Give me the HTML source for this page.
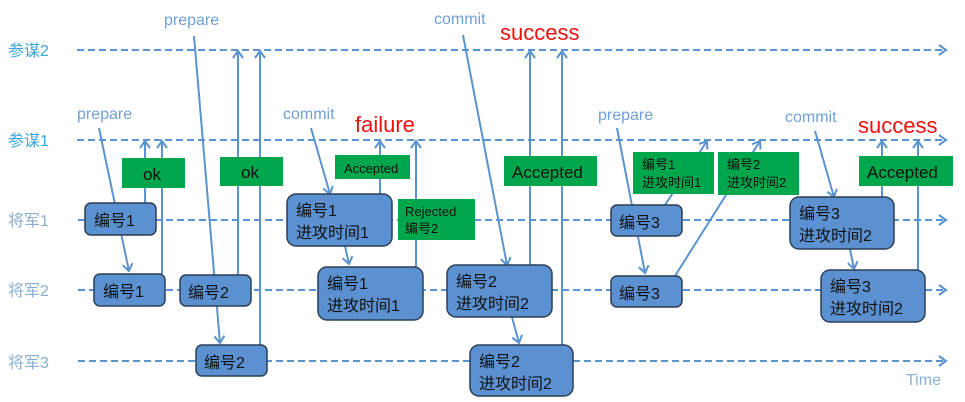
<!DOCTYPE html>
<html><head><meta charset="utf-8"><style>
html,body{margin:0;padding:0;background:#fff;}
svg{display:block;}
text{font-family:"Liberation Sans","Noto Sans CJK SC",sans-serif;}
</style></head><body>
<svg width="965" height="402" viewBox="0 0 965 402" xmlns="http://www.w3.org/2000/svg">
<defs>
<marker id="a" markerWidth="12" markerHeight="12" refX="9" refY="6" orient="auto" markerUnits="userSpaceOnUse">
<path d="M2,1 L9,6 L2,11" fill="none" stroke="#5b93d0" stroke-width="2"/>
</marker>
</defs>
<g stroke="#5b93d0" stroke-width="2" stroke-dasharray="7,4" fill="none" marker-end="url(#a)">
<line x1="77" y1="50" x2="946" y2="50"/>
<line x1="77" y1="140" x2="946" y2="140"/>
<line x1="78" y1="220" x2="946" y2="220"/>
<line x1="78" y1="290" x2="946" y2="290"/>
<line x1="78" y1="361" x2="946" y2="361"/>
</g>
<g font-size="16">
<text x="8" y="56" fill="#3aa6dc">参谋2</text>
<text x="8" y="146" fill="#3aa6dc">参谋1</text>
<text x="8" y="226" fill="#8aaed0">将军1</text>
<text x="8" y="296" fill="#8aaed0">将军2</text>
<text x="8" y="368" fill="#8aaed0">将军3</text>
</g>
<g font-size="16" fill="#6fa0d6">
<text x="77" y="119">prepare</text>
<text x="164" y="25">prepare</text>
<text x="283" y="119">commit</text>
<text x="434" y="24">commit</text>
<text x="598" y="120">prepare</text>
<text x="785" y="122">commit</text>
<text x="906" y="385" fill="#8aaed0">Time</text>
</g>
<g font-size="22" fill="#ee1111">
<text x="355" y="132">failure</text>
<text x="500" y="40">success</text>
<text x="858" y="133">success</text>
</g>
<g stroke="#5b93d0" stroke-width="2" fill="none" marker-end="url(#a)">
<line x1="99" y1="128" x2="129" y2="271"/>
<line x1="145" y1="203" x2="145" y2="141"/>
<line x1="162" y1="274" x2="162" y2="141"/>
<line x1="194" y1="36" x2="220" y2="343"/>
<line x1="238" y1="275" x2="238" y2="51"/>
<line x1="260" y1="345" x2="260" y2="51"/>
<line x1="311" y1="128" x2="330" y2="194" marker-end=""/>
<line x1="345" y1="246" x2="349" y2="264"/>
<line x1="380" y1="194" x2="380" y2="141"/>
<line x1="416" y1="267" x2="416" y2="141"/>
<line x1="463" y1="35" x2="507" y2="265" marker-end=""/>
<line x1="512" y1="317" x2="519" y2="343"/>
<line x1="530" y1="265" x2="530" y2="51"/>
<line x1="562" y1="345" x2="562" y2="51"/>
<line x1="617" y1="128" x2="645" y2="273"/>
<line x1="665" y1="205" x2="707" y2="141"/>
<line x1="675" y1="276" x2="760" y2="141"/>
<line x1="815" y1="131" x2="834" y2="197" marker-end=""/>
<line x1="850" y1="249" x2="854" y2="269"/>
<line x1="882" y1="197" x2="882" y2="141"/>
<line x1="918" y1="270" x2="918" y2="141"/>
</g>
<g fill="#00a64c">
<rect x="122" y="158" width="63" height="30"/>
<rect x="220" y="157" width="63" height="29"/>
<rect x="335" y="155" width="75" height="24"/>
<rect x="398" y="199" width="77" height="41"/>
<rect x="504" y="156" width="93" height="30"/>
<rect x="633" y="152" width="81" height="42"/>
<rect x="718" y="152" width="81" height="43"/>
<rect x="859" y="156" width="94" height="30"/>
</g>
<g fill="#111">
<text x="143" y="180" font-size="17">ok</text>
<text x="241" y="178" font-size="17">ok</text>
<text x="344" y="173" font-size="13">Accepted</text>
<text x="405" y="216" font-size="13">Rejected</text>
<text x="405" y="233" font-size="13">编号2</text>
<text x="512" y="178" font-size="17">Accepted</text>
<text x="642" y="169" font-size="13">编号1</text>
<text x="642" y="187" font-size="13">进攻时间1</text>
<text x="727" y="169" font-size="13">编号2</text>
<text x="727" y="187" font-size="13">进攻时间2</text>
<text x="867" y="178" font-size="17">Accepted</text>
</g>
<g fill="#5b91d0" stroke="#2c3e55" stroke-width="1.5">
<rect x="85" y="203" width="71" height="32" rx="6"/>
<rect x="94" y="274" width="71" height="32" rx="6"/>
<rect x="180" y="275" width="71" height="31" rx="6"/>
<rect x="196" y="345" width="71" height="31" rx="6"/>
<rect x="287" y="194" width="105" height="52" rx="9"/>
<rect x="318" y="267" width="105" height="53" rx="9"/>
<rect x="447" y="265" width="105" height="52" rx="9"/>
<rect x="470" y="345" width="103" height="51" rx="9"/>
<rect x="611" y="205" width="71" height="31" rx="6"/>
<rect x="611" y="276" width="71" height="31" rx="6"/>
<rect x="790" y="197" width="104" height="52" rx="9"/>
<rect x="821" y="270" width="104" height="52" rx="9"/>
</g>
<g fill="#111" font-size="16">
<text x="94" y="226">编号1</text>
<text x="103" y="297">编号1</text>
<text x="188" y="298">编号2</text>
<text x="204" y="368">编号2</text>
<text x="296" y="216">编号1</text>
<text x="296" y="238">进攻时间1</text>
<text x="327" y="289">编号1</text>
<text x="327" y="311">进攻时间1</text>
<text x="456" y="287">编号2</text>
<text x="456" y="309">进攻时间2</text>
<text x="479" y="367">编号2</text>
<text x="479" y="389">进攻时间2</text>
<text x="619" y="228">编号3</text>
<text x="619" y="299">编号3</text>
<text x="799" y="219">编号3</text>
<text x="799" y="241">进攻时间2</text>
<text x="830" y="292">编号3</text>
<text x="830" y="314">进攻时间2</text>
</g>
</svg>
</body></html>
